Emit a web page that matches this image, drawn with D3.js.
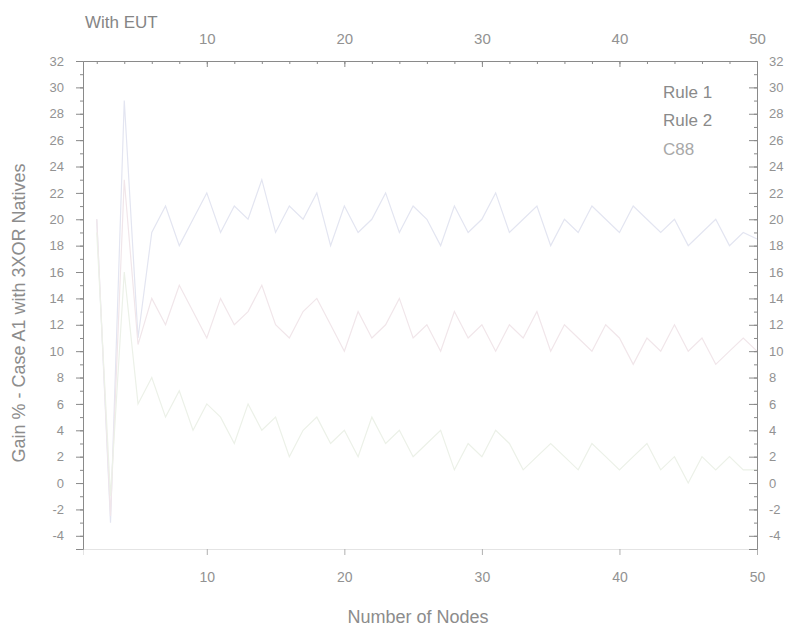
<!DOCTYPE html>
<html>
<head>
<meta charset="utf-8">
<style>
    body { margin: 0; background: #fff; }
    svg { display: block; }
    text { font-family: "Liberation Sans", Arial, sans-serif; fill: #858585; }
    .axis path, .axis line { stroke: #8a8a8a; }
    .axis text { fill: #929292; }
    .series { fill: none; stroke-width: 1.2; }
</style>
</head>
<body>
<script src="https://d3js.org/d3.v7.min.js"></script>
<script>

    // data (very faint lines, estimated)
    var nodes = [2, 3, 4, 5, 6, 7, 8, 9, 10, 11, 12, 13, 14, 15, 16, 17, 18, 19, 20, 21, 22, 23, 24, 25, 26,
                 27, 28, 29, 30, 31, 32, 33, 34, 35, 36, 37, 38, 39, 40, 41, 42, 43, 44, 45, 46, 47, 48, 49, 50];
    var rule1 = [20, -3, 29, 11, 19, 21, 18, 20, 22, 19, 21, 20, 23, 19, 21, 20, 22, 18, 21, 19, 20, 22, 19, 21, 20,
                 18, 21, 19, 20, 22, 19, 20, 21, 18, 20, 19, 21, 20, 19, 21, 20, 19, 20, 18, 19, 20, 18, 19, 18.5];
    var rule2 = [20, -2.5, 23, 10.5, 14, 12, 15, 13, 11, 14, 12, 13, 15, 12, 11, 13, 14, 12, 10, 13, 11, 12, 14, 11, 12,
                 10, 13, 11, 12, 10, 12, 11, 13, 10, 12, 11, 10, 12, 11, 9, 11, 10, 12, 10, 11, 9, 10, 11, 10];
    var c88 = [19, -1, 16, 6, 8, 5, 7, 4, 6, 5, 3, 6, 4, 5, 2, 4, 5, 3, 4, 2, 5, 3, 4, 2, 3,
               4, 1, 3, 2, 4, 3, 1, 2, 3, 2, 1, 3, 2, 1, 2, 3, 1, 2, 0, 2, 1, 2, 1, 1];
    var seriesNames = ["Rule 1", "Rule 2", "C88"];
    var seriesColors = ["#e3e5f1", "#f1e6ea", "#ecf1e8"];
    var xTicks = [10, 20, 30, 40, 50];
    var yTicks = [32, 30, 28, 26, 24, 22, 20, 18, 16, 14, 12, 10, 8, 6, 4, 2, 0, -2, -4];

    var width = 797, height = 633;
    var margin = { top: 61, right: 40, bottom: 84, left: 83 };
    var fmt = function(d) { return String(d); };

    var svg = d3.select("body").append("svg")
        .attr("width", width)
        .attr("height", height);

    var x = d3.scaleLinear().domain([1, 50]).range([margin.left, width - margin.right]);
    var y = d3.scaleLinear().domain([-5, 32]).range([height - margin.bottom, margin.top]);

    var minorY = d3.range(-5, 33, 1);
    var minorX = d3.range(2, 51, 2);

    // series (drawn under the axes)
    var line = d3.line()
        .x(function(d) { return x(d[0]); })
        .y(function(d) { return y(d[1]); });

    [rule1, rule2, c88].forEach(function(vals, i) {
        svg.append("path")
            .attr("class", "series")
            .attr("stroke", seriesColors[i])
            .attr("d", line(nodes.map(function(n, j) { return [n, vals[j]]; })));
    });

    // bottom axis
    var axBottom = svg.append("g").attr("class", "axis")
        .attr("transform", "translate(0," + y(-5) + ")")
        .call(d3.axisBottom(x).tickValues(xTicks).tickSize(6).tickPadding(17).tickFormat(fmt));
    axBottom.select(".domain").style("stroke", "#e4e4e4");
    axBottom.selectAll(".tick line").style("stroke", "#b0b0b0");
    axBottom.selectAll("text").style("font-size", "14px");

    // top axis
    var axTop = svg.append("g").attr("class", "axis")
        .attr("transform", "translate(0," + y(32) + ")")
        .call(d3.axisTop(x).tickValues(xTicks).tickSize(-6).tickPadding(17).tickFormat(fmt));
    axTop.selectAll("text").style("font-size", "15px");
    svg.append("g").attr("class", "axis")
        .attr("transform", "translate(0," + y(32) + ")")
        .call(d3.axisBottom(x).tickValues(minorX).tickSize(3).tickFormat(""))
        .select(".domain").remove();

    // left axis
    var axLeft = svg.append("g").attr("class", "axis")
        .attr("transform", "translate(" + x(1) + ",0)")
        .call(d3.axisLeft(y).tickValues(yTicks).tickSize(7).tickPadding(12).tickFormat(fmt));
    axLeft.selectAll("text").style("font-size", "13px");
    svg.append("g").attr("class", "axis")
        .attr("transform", "translate(" + x(1) + ",0)")
        .call(d3.axisLeft(y).tickValues(minorY).tickSize(3).tickFormat(""))
        .select(".domain").remove();

    // right axis
    var axRight = svg.append("g").attr("class", "axis")
        .attr("transform", "translate(" + x(50) + ",0)")
        .call(d3.axisRight(y).tickValues(yTicks).tickSize(-8).tickPadding(12).tickFormat(fmt));
    axRight.selectAll("text").style("font-size", "13px");
    svg.append("g").attr("class", "axis")
        .attr("transform", "translate(" + x(50) + ",0)")
        .call(d3.axisRight(y).tickValues(minorY).tickSize(-3).tickFormat(""))
        .select(".domain").remove();

    // legend
    var legend = svg.append("g").attr("transform", "translate(663,0)");
    seriesNames.forEach(function(name, i) {
        legend.append("text")
            .attr("x", 0).attr("y", 92 + i * 28.5)
            .attr("dy", "0.35em")
            .style("font-size", "17px")
            .style("fill", i == 2 ? "#a8a8a8" : "#8a8a8a")
            .text(name);
    });

    // titles
    svg.append("text")
        .attr("x", 85).attr("y", 28)
        .style("font-size", "17px")
        .text("With EUT");

    svg.append("text")
        .attr("x", 418).attr("y", 623)
        .attr("text-anchor", "middle")
        .style("font-size", "18px")
        .style("fill", "#8c8c8c")
        .text("Number of Nodes");

    svg.append("text")
        .attr("transform", "translate(25," + 313 + ") rotate(-90)")
        .attr("text-anchor", "middle")
        .style("font-size", "18px")
        .style("fill", "#8c8c8c")
        .text("Gain % - Case A1 with 3XOR Natives");

</script>
</body>
</html>
